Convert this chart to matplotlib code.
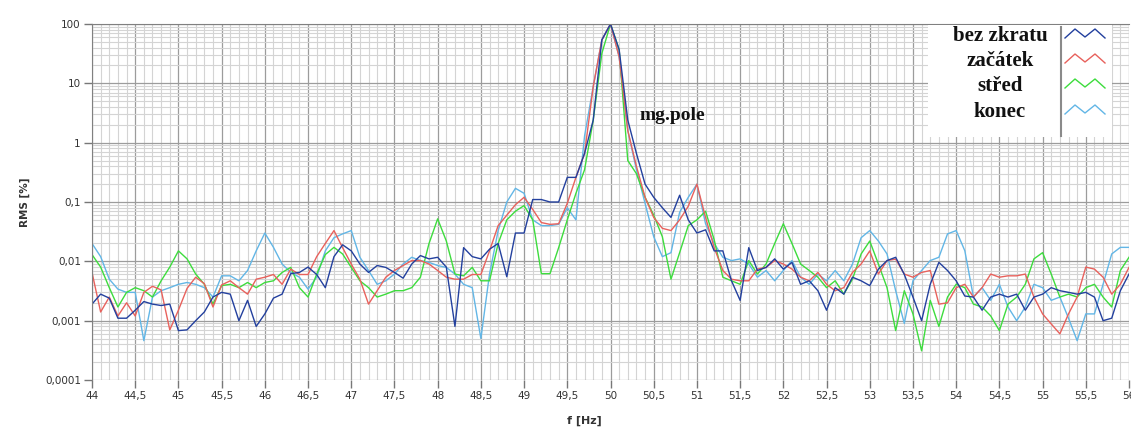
import numpy as np
import matplotlib.pyplot as plt
from matplotlib.ticker import MultipleLocator, LogLocator, NullFormatter
from matplotlib.lines import Line2D
from matplotlib.patches import Rectangle

# frequency grid 44..56 Hz, step 0.1 Hz
freq = np.linspace(44, 56, 121)

bez_zkratu = [
    0.0019, 0.0028, 0.0024, 0.0011, 0.0011, 0.0015, 0.0021, 0.0019, 0.0018, 0.0019,
    0.00068, 0.0007, 0.001, 0.0014, 0.0025, 0.003, 0.0028, 0.001, 0.0022, 0.0008,
    0.0013, 0.0024, 0.0028, 0.0062, 0.0065, 0.008, 0.006, 0.0036, 0.012, 0.019,
    0.015, 0.009, 0.0065, 0.0085, 0.0079, 0.0065, 0.0052, 0.009, 0.0125, 0.011,
    0.0117, 0.008, 0.0008, 0.017, 0.012, 0.011, 0.016, 0.02, 0.0055, 0.03,
    0.03, 0.11, 0.11, 0.1, 0.1, 0.26, 0.26, 0.66, 2.4, 54,
    100, 37, 2.4, 0.66, 0.2, 0.12, 0.08, 0.055, 0.13, 0.05,
    0.03, 0.034, 0.015, 0.015, 0.0047, 0.0022, 0.017, 0.007, 0.0079, 0.011,
    0.0074, 0.0096, 0.0041, 0.0047, 0.0032, 0.0015, 0.0036, 0.0028, 0.0054, 0.0047,
    0.0039, 0.0074, 0.0103, 0.0117, 0.006, 0.0025, 0.001, 0.0041, 0.0096, 0.007,
    0.0047, 0.0026, 0.0025, 0.0015, 0.0025, 0.0028, 0.0025, 0.0028, 0.0015, 0.0025,
    0.0028, 0.0036, 0.0032, 0.003, 0.0028, 0.003, 0.0025, 0.001, 0.0011, 0.0032,
    0.0061]

zacatek = [
    0.0065, 0.0014, 0.0025, 0.0012, 0.002, 0.0012, 0.003, 0.0038, 0.0033, 0.0007,
    0.0015, 0.0035, 0.0054, 0.0042, 0.0017, 0.004, 0.0047, 0.0036, 0.0028, 0.005,
    0.0054, 0.006, 0.0041, 0.0074, 0.006, 0.006, 0.012, 0.02, 0.033, 0.017,
    0.009, 0.005, 0.0019, 0.0032, 0.0054, 0.007, 0.0085, 0.0103, 0.0103, 0.009,
    0.007, 0.0054, 0.005, 0.005, 0.006, 0.006, 0.015, 0.04, 0.06, 0.09,
    0.12, 0.075, 0.045, 0.042, 0.043, 0.095, 0.26, 0.66, 8.8, 54,
    100, 28, 1.6, 0.4, 0.12, 0.055, 0.036, 0.033, 0.05, 0.085,
    0.2, 0.055, 0.017, 0.007, 0.005, 0.0047, 0.0047, 0.0074, 0.0079, 0.0103,
    0.009, 0.0074, 0.0054, 0.0047, 0.0065, 0.0041, 0.0032, 0.0036, 0.0065, 0.009,
    0.015, 0.0061, 0.0103, 0.0109, 0.0061, 0.0054, 0.0065, 0.007, 0.0019, 0.002,
    0.0036, 0.0041, 0.0025, 0.0036, 0.0061, 0.0054, 0.0057, 0.0057, 0.0061, 0.0025,
    0.0013, 0.00088, 0.0006, 0.0013, 0.0025, 0.008, 0.0074, 0.0054, 0.0028, 0.0041,
    0.0079]

stred = [
    0.013, 0.008, 0.0036, 0.0017, 0.003, 0.0036, 0.0032, 0.0025, 0.0047, 0.008,
    0.015, 0.011, 0.0061, 0.0041, 0.0019, 0.0039, 0.0041, 0.0036, 0.0044, 0.0036,
    0.0044, 0.0047, 0.0065, 0.0079, 0.0036, 0.0025, 0.0061, 0.013, 0.0172, 0.0133,
    0.0079, 0.0047, 0.0036, 0.0025, 0.0028, 0.0032, 0.0032, 0.0036, 0.0054, 0.02,
    0.052, 0.022, 0.0061, 0.0057, 0.0079, 0.0047, 0.0047, 0.02, 0.05, 0.07,
    0.087, 0.05, 0.0062, 0.0062, 0.017, 0.05, 0.14, 0.35, 2.4, 32,
    100, 37, 0.5, 0.3, 0.12, 0.06, 0.026, 0.005, 0.014, 0.04,
    0.05, 0.07, 0.023, 0.0054, 0.0047, 0.0041, 0.0103, 0.0061, 0.009, 0.02,
    0.043, 0.02, 0.009, 0.007, 0.0054, 0.0036, 0.0047, 0.0028, 0.005, 0.0133,
    0.022, 0.009, 0.0036, 0.00068, 0.0032, 0.0013, 0.00031, 0.0022, 0.0008, 0.0025,
    0.0041, 0.0036, 0.0019, 0.0017, 0.0012, 0.00068, 0.0019, 0.0025, 0.0041, 0.011,
    0.014, 0.0061, 0.0025, 0.0028, 0.0025, 0.0036, 0.0041, 0.0025, 0.0017, 0.007,
    0.0117]

konec = [
    0.02, 0.012, 0.005, 0.0034, 0.003, 0.003, 0.00046, 0.0025, 0.0032, 0.0036,
    0.0041, 0.0044, 0.0041, 0.0036, 0.0025, 0.0057, 0.0057, 0.0047, 0.007, 0.015,
    0.03, 0.0172, 0.009, 0.0065, 0.0054, 0.0034, 0.0054, 0.015, 0.025, 0.029,
    0.033, 0.0117, 0.007, 0.0041, 0.0047, 0.0061, 0.009, 0.0117, 0.0103, 0.0096,
    0.0085, 0.0079, 0.0061, 0.0041, 0.0036, 0.0005, 0.0061, 0.033, 0.1, 0.17,
    0.14, 0.05, 0.04, 0.04, 0.042, 0.08, 0.05, 1.3, 8.8, 54,
    100, 28, 1.6, 0.35, 0.095, 0.026, 0.012, 0.014, 0.067, 0.12,
    0.2, 0.043, 0.02, 0.0117, 0.0103, 0.011, 0.009, 0.0054, 0.007, 0.0047,
    0.007, 0.0103, 0.0054, 0.0041, 0.0061, 0.0047, 0.007, 0.0047, 0.009, 0.025,
    0.033, 0.022, 0.0133, 0.0032, 0.0009, 0.0047, 0.007, 0.0103, 0.0117, 0.029,
    0.033, 0.0151, 0.0025, 0.0036, 0.0022, 0.0041, 0.0017, 0.001, 0.0017, 0.0041,
    0.0036, 0.0022, 0.0025, 0.0011, 0.00046, 0.0013, 0.0013, 0.0041, 0.0133, 0.0172,
    0.0172]

labels = ["bez zkratu", "začátek", "střed", "konec"]
series = [bez_zkratu, zacatek, stred, konec]
colors = ["#23409e", "#e8615c", "#3ddc3d", "#62b6e6"]

yticks = [1e-4, 1e-3, 1e-2, 1e-1, 1, 10, 100]
ytick_labels = ["0,0001", "0,001", "0,01", "0,1", "1", "10", "100"]
xticks = np.arange(44, 56.01, 0.5)

W, H = 1131, 430
fig = plt.figure(figsize=(W / 100, H / 100), dpi=100)
ax = fig.add_axes([92 / W, 1 - 380 / H, (1129 - 92) / W, (380 - 24) / H])

for vals, c in reversed(list(zip(series, colors))):
    ax.plot(freq, vals, color=c, lw=1.0)

ax.set_yscale("log")
ax.set_ylim(1e-4, 100)
ax.set_xlim(44, 56)
ax.set_yticks(yticks)
ax.set_yticklabels(ytick_labels)
ax.yaxis.set_minor_locator(LogLocator(base=10, subs=np.arange(2, 10)))
ax.yaxis.set_minor_formatter(NullFormatter())
ax.set_xticks(xticks)
ax.set_xticklabels([("%g" % v).replace(".", ",") for v in xticks])
ax.xaxis.set_minor_locator(MultipleLocator(0.1))

ax.grid(which="major", color="#9c9c9c", lw=0.9)
ax.grid(which="minor", color="#d4d4d4", lw=0.8)
ax.set_axisbelow(True)
ax.tick_params(which="major", direction="out", length=6, width=1, color="#777777",
               labelsize=7.5, labelcolor="#333333", pad=2)
ax.tick_params(which="minor", length=0)
for s in ["left", "top"]:
    ax.spines[s].set_color("#808080")
for s in ["right", "bottom"]:
    ax.spines[s].set_visible(False)

ax.set_ylabel("RMS [%]", fontsize=7.5, fontweight="bold", color="#333333")
ax.yaxis.set_label_coords(-0.06, 0.5)
ax.set_xlabel("f [Hz]", fontsize=8, fontweight="bold", color="#333333")
ax.xaxis.set_label_coords(0.475, -0.1)

ax.text(50.33, 2.9, "mg.pole", fontfamily="Liberation Serif", fontweight="bold",
        fontsize=14, va="center", ha="left", color="#111111")

# legend box, drawn by hand (text centred, samples to the right)
fig.add_artist(Rectangle((928 / W, 1 - 137 / H), (1112 - 928) / W, (137 - 25) / H,
                         transform=fig.transFigure, facecolor="white",
                         edgecolor="none", zorder=5))
fig.add_artist(Line2D([1061 / W, 1061 / W], [1 - 27 / H, 1 - 136 / H],
                      transform=fig.transFigure, color="#8a8a8a", lw=1.5, zorder=6))
rows = [36, 61, 86, 112]
zig_x = np.array([1065, 1075, 1085, 1095, 1105])
zig_y = np.array([4, -5, 3, -5, 4])
for lab, c, r in zip(labels, colors, rows):
    fig.text(1000 / W, 1 - r / H, lab, ha="center", va="center",
             fontfamily="Liberation Serif", fontweight="bold", fontsize=15,
             color="#111111", zorder=7)
    fig.add_artist(Line2D(zig_x / W, 1 - (r - 2 + zig_y) / H,
                          transform=fig.transFigure, color=c, lw=1.0, zorder=7))

fig.savefig("out.png", dpi=100, facecolor="white")
